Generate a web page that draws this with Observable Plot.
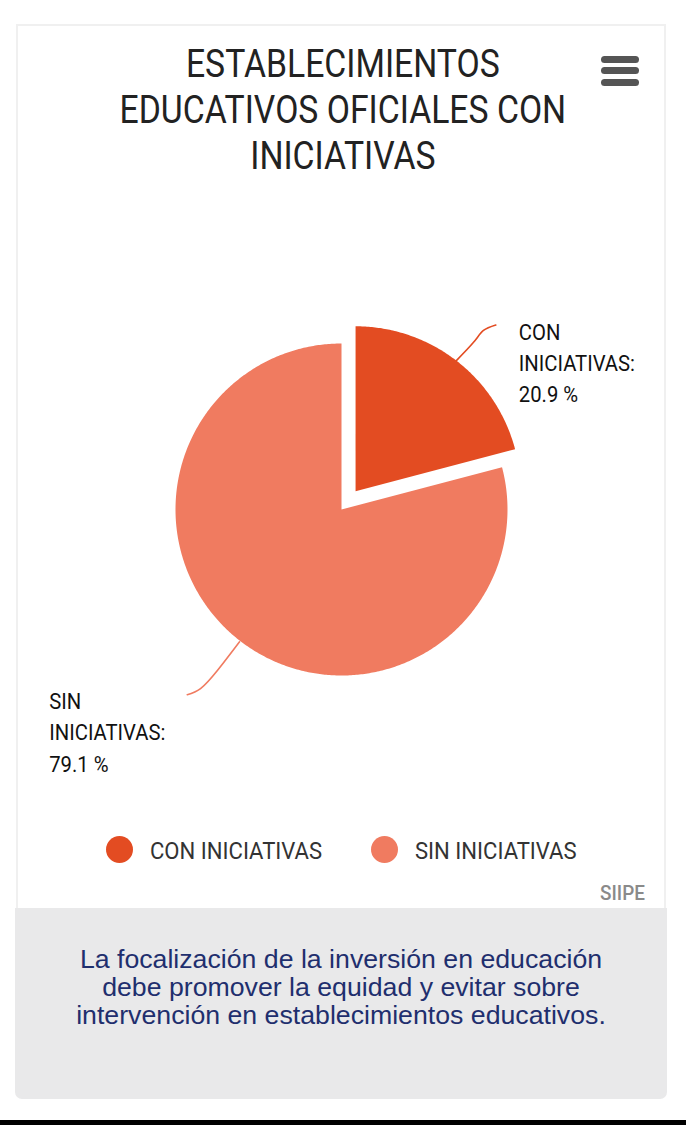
<!DOCTYPE html>
<html lang="es">
<head>
<meta charset="utf-8">
<script src="https://cdn.jsdelivr.net/npm/d3@7"></script>
<script src="https://cdn.jsdelivr.net/npm/@observablehq/plot@0.6"></script>
<style>
html,body{margin:0;padding:0;background:#fff;width:686px;height:1125px;overflow:hidden;position:relative}
.abs{position:absolute}
#card{left:16px;top:24px;width:646px;height:890px;border:2px solid #f0f0f0;border-bottom:none;background:#fff}
.narrow{font-family:Roboto,"Liberation Sans",sans-serif;white-space:nowrap}
.tl{left:0;width:686px;text-align:center;font-size:39px;line-height:46px;color:#222;height:46px;transform:scaleX(.865);transform-origin:342px 0}
.bar{left:601px;width:38px;height:7px;border-radius:3.5px;background:#555}
#panel{left:15px;top:908px;width:652px;height:191px;background:#e9e9ea;border-radius:0 0 7px 7px}
.msg{left:0;width:682px;text-align:center;font-family:"Liberation Sans",Arial,sans-serif;font-size:26.7px;line-height:28px;color:#1f2f6e;white-space:nowrap}
.lg{font-size:24px;color:#333;line-height:30px;top:836px;transform:scaleX(.92);transform-origin:0 0}
.dot{width:27px;height:27px;border-radius:50%;top:836px}
#chart{left:0;top:190px}
#strip{left:0;top:1120px;width:686px;height:5px;background:#000}
</style>
</head>
<body>
<div id="card" class="abs"></div>
<div id="panel" class="abs"></div>
<div id="strip" class="abs"></div>
<div id="titles"></div>
<div class="abs bar" style="top:56px"></div>
<div class="abs bar" style="top:67px"></div>
<div class="abs bar" style="top:79px"></div>
<div id="chart" class="abs"></div>
<div id="legend"></div>
<div class="abs narrow" style="left:600px;top:881px;font-size:21px;line-height:24px;font-weight:500;color:#8a8a8a;transform:scaleX(.9);transform-origin:0 0">SIIPE</div>
<div id="message"></div>
<script>
// Data
const titleLines = ["ESTABLECIMIENTOS", "EDUCATIVOS OFICIALES CON", "INICIATIVAS"];
const categories = ["CON INICIATIVAS", "SIN INICIATIVAS"];
const shares = [20.9, 79.1];
const shareLabels = ["20.9 %", "79.1 %"];
const colors = ["#e34c22", "#f07b60"];
const messageLines = [
  "La focalización de la inversión en educación",
  "debe promover la equidad y evitar sobre",
  "intervención en establecimientos educativos."
];

// Layout
const W = 686, H = 650, R = 166, cx = 341, cy = 319, explode = 23;
const TAU = 2 * Math.PI;
const total = d3.sum(shares);
const polar = (r, a) => ({x: r * Math.sin(a), y: -r * Math.cos(a)});

let start = 0;
const slices = categories.map((name, i) => {
  const a0 = start, a1 = start + TAU * shares[i] / total;
  start = a1;
  return {name, i, a0, a1, mid: (a0 + a1) / 2, off: i === 0 ? explode : 0, r: i === 0 ? R - 1 : R};
});

const slicePts = slices.flatMap(s => {
  const o = polar(s.off, s.mid);
  const n = Math.ceil((s.a1 - s.a0) / 0.01);
  const arc = d3.range(n + 1).map(k => {
    const p = polar(s.r, s.a0 + (s.a1 - s.a0) * k / n);
    return {name: s.name, x: o.x + p.x, y: o.y + p.y};
  });
  return [{name: s.name, x: o.x, y: o.y}, ...arc];
});

// Leader lines: [radius from pie centre, angle shift] per slice
const leaderRadii = [[187, 213, 228.5, 240.5], [167, 203, 228, 241]];
const leaderShift = [[0, 0.012, 0.014, 0.04], [0, 0, 0.01, 0.038]];
const leaders = slices.flatMap(s => leaderRadii[s.i].map((r, k) =>
  ({name: s.name, ...polar(r, s.mid + leaderShift[s.i][k])})));

const labelRows = slices.flatMap(s => {
  const end = polar(leaderRadii[s.i][3], s.mid + leaderShift[s.i][3]);
  const dx = s.i === 0 ? 23 : -138;
  const [a, b] = s.name.split(" ");
  return [a, b + ":", shareLabels[s.i]].map((text, k) => ({text, x: end.x + dx, y: end.y + 13.5 + 31.3 * k}));
});

const plot = Plot.plot({
  width: W, height: H, margin: 0,
  x: {domain: [-cx, W - cx], range: [0, W], axis: null},
  y: {domain: [-cy, H - cy], range: [0, H], axis: null},
  color: {domain: categories, range: colors},
  style: {background: "transparent"},
  marks: [
    Plot.line(leaders, {x: "x", y: "y", z: "name", stroke: "name", strokeWidth: 1.6, curve: "natural"}),
    Plot.line(slicePts, {x: "x", y: "y", z: "name", fill: "name", stroke: "none", curve: "linear-closed"}),
    Plot.text(labelRows, {x: "x", y: "y", text: "text", textAnchor: "start", lineAnchor: "bottom", dy: 1,
      fontFamily: 'Roboto,"Liberation Sans",sans-serif', fontSize: 22.5, fill: "#111"})
  ]
});
document.getElementById("chart").append(plot);
plot.querySelectorAll("text").forEach(t => {
  t.setAttribute("textLength", t.getComputedTextLength() * 0.9);
  t.setAttribute("lengthAdjust", "spacingAndGlyphs");
});

// Title, legend, message
const titles = document.getElementById("titles");
titleLines.forEach((t, i) => {
  const d = document.createElement("div");
  d.className = "abs tl narrow"; d.style.top = (41 + 46 * i) + "px"; d.textContent = t;
  titles.append(d);
});
const legend = document.getElementById("legend");
const dotX = [106, 371], textX = [150, 415];
categories.forEach((c, i) => {
  const dot = document.createElement("div");
  dot.className = "abs dot"; dot.style.left = dotX[i] + "px"; dot.style.background = colors[i];
  const t = document.createElement("div");
  t.className = "abs lg narrow"; t.style.left = textX[i] + "px"; t.textContent = c;
  legend.append(dot, t);
});
const message = document.getElementById("message");
messageLines.forEach((t, i) => {
  const d = document.createElement("div");
  d.className = "abs msg"; d.style.top = (945 + 28 * i) + "px"; d.textContent = t;
  message.append(d);
});
</script>
</body>
</html>
